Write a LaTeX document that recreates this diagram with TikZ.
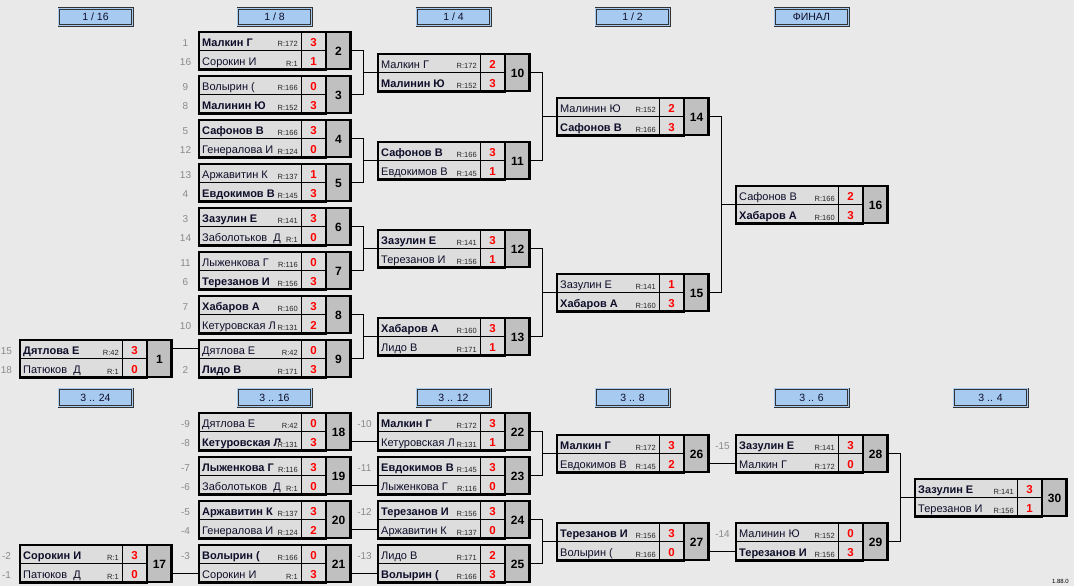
\documentclass[tikz,border=0pt]{standalone}
\usepackage{fontspec}
\setmainfont{Liberation Sans}
\definecolor{bgc}{RGB}{233,233,233}
\definecolor{cellc}{RGB}{221,221,221}
\definecolor{numc}{RGB}{192,192,192}
\definecolor{hdrc}{RGB}{166,202,240}
\definecolor{namec}{RGB}{14,14,42}
\definecolor{seedc}{RGB}{138,138,138}
\tikzset{
  rowcell/.style={rectangle, minimum width=128pt, minimum height=19.5pt, inner sep=0pt, outer sep=0pt, fill=cellc, draw=black, line width=0.6pt},
  fullbox/.style={rectangle, minimum width=153pt, minimum height=39pt, inner sep=0pt, outer sep=0pt},
  frame/.style={line width=2.3pt, draw=black},
  numtxt/.style={inner sep=0pt, font=\fontsize{12}{14}\selectfont\bfseries, text=black},
  nametxt/.style={inner sep=0pt, anchor=base west, font=\fontsize{11}{13}\selectfont, text=namec},
  rtxt/.style={inner sep=0.6pt, anchor=base east, fill=cellc, font=\fontsize{7.5}{9}\selectfont, text=black!85},
  scoretxt/.style={inner sep=0pt, anchor=base, font=\fontsize{11.5}{13}\selectfont\bfseries, text=red},
  seedtxt/.style={inner sep=0pt, anchor=base, font=\fontsize{10}{12}\selectfont, text=seedc},
  hdr/.style={rectangle, minimum width=73.4pt, minimum height=17.4pt, inner sep=0pt, fill=hdrc, draw=black!80, double=hdrc, double distance=1.2pt, line width=0.7pt, text height=7.5pt, text depth=0pt, font=\fontsize{10.5}{12}\selectfont, text=namec},
  conn/.style={line width=0.9pt, draw=black},
}
\newcommand\mtch[4]{%
  \node[rowcell] (M#1a) at (#2+64,#3+9.75) {};
  \node[rowcell] (M#1b) at (#2+64,#3+29.25) {};
  \node[fullbox] (M#1) at (#2+76.5,#3+19.5) {};
  \fill[numc] (#2+128,#3) rectangle (#2+153,#3+39);
  \draw[line width=0.6pt] (#2+103,#3) -- (#2+103,#3+39);
  \draw[frame] (#2+1.1,#3+1.1) rectangle (#2+128,#3+37.9);
  \draw[frame] (#2+128,#3+1.1) rectangle (#2+152.4,#3+37.9);
  \node[numtxt] (M#1n) at (#2+140.5,#3+20.2) {#4};
}
\newcommand\plr[4]{%
  \node[nametxt] (#1-n) at ([shift={(4,5.3)}]#1.west) {#2};
  \node[rtxt] (#1-r) at ([shift={(100.5,-3.5)}]#1.south west) {R:#3};
  \node[scoretxt] (#1-s) at ([shift={(115.5,5.5)}]#1.west) {#4};
}
\newcommand\sd[2]{%
  \node[seedtxt] (#1-k) at ([shift={(-12.5,5.3)}]#1.west) {#2};
}
\begin{document}
\begin{tikzpicture}[x=1pt,y=-1pt]
\useasboundingbox (0,0) rectangle (1074,586);
\fill[bgc] (0,0) rectangle (1074,586);

% headers
\node[hdr] (H1) at (95.5,17) {1 / 16};
\node[hdr] (H2) at (274.5,17) {1 / 8};
\node[hdr] (H3) at (453.5,17) {1 / 4};
\node[hdr] (H4) at (632.5,17) {1 / 2};
\node[hdr] (H5) at (811.5,17) {ФИНАЛ};
\node[hdr] (B1) at (95.5,397.5) {3 .. 24};
\node[hdr] (B2) at (274.5,397.5) {3 .. 16};
\node[hdr] (B3) at (453.5,397.5) {3 .. 12};
\node[hdr] (B4) at (632.5,397.5) {3 .. 8};
\node[hdr] (B5) at (811.5,397.5) {3 .. 6};
\node[hdr] (B6) at (990.5,397.5) {3 .. 4};

% matches, upper bracket
\mtch{1}{19}{339}{1}
\mtch{2}{198}{31}{2}
\mtch{3}{198}{75}{3}
\mtch{4}{198}{119}{4}
\mtch{5}{198}{163}{5}
\mtch{6}{198}{207}{6}
\mtch{7}{198}{251}{7}
\mtch{8}{198}{295}{8}
\mtch{9}{198}{339}{9}
\mtch{10}{377}{53}{10}
\mtch{11}{377}{141}{11}
\mtch{12}{377}{229}{12}
\mtch{13}{377}{317}{13}
\mtch{14}{556}{97}{14}
\mtch{15}{556}{273}{15}
\mtch{16}{735}{185}{16}
% lower bracket
\mtch{17}{19}{544}{17}
\mtch{18}{198}{412}{18}
\mtch{19}{198}{456}{19}
\mtch{20}{198}{500}{20}
\mtch{21}{198}{544}{21}
\mtch{22}{377}{412}{22}
\mtch{23}{377}{456}{23}
\mtch{24}{377}{500}{24}
\mtch{25}{377}{544}{25}
\mtch{26}{556}{434}{26}
\mtch{27}{556}{522}{27}
\mtch{28}{735}{434}{28}
\mtch{29}{735}{522}{29}
\mtch{30}{914}{478}{30}

% players
\plr{M1a}{\bfseries Дятлова Е}{42}{3}\sd{M1a}{15}
\plr{M1b}{Патюков\ \ Д}{1}{0}\sd{M1b}{18}
\plr{M2a}{\bfseries Малкин Г}{172}{3}\sd{M2a}{1}
\plr{M2b}{Сорокин И}{1}{1}\sd{M2b}{16}
\plr{M3a}{Волырин (}{166}{0}\sd{M3a}{9}
\plr{M3b}{\bfseries Малинин Ю}{152}{3}\sd{M3b}{8}
\plr{M4a}{\bfseries Сафонов В}{166}{3}\sd{M4a}{5}
\plr{M4b}{Генералова И}{124}{0}\sd{M4b}{12}
\plr{M5a}{Аржавитин К}{137}{1}\sd{M5a}{13}
\plr{M5b}{\bfseries Евдокимов В}{145}{3}\sd{M5b}{4}
\plr{M6a}{\bfseries Зазулин Е}{141}{3}\sd{M6a}{3}
\plr{M6b}{Заболотьков\ \ Д}{1}{0}\sd{M6b}{14}
\plr{M7a}{Лыженкова Г}{116}{0}\sd{M7a}{11}
\plr{M7b}{\bfseries Терезанов И}{156}{3}\sd{M7b}{6}
\plr{M8a}{\bfseries Хабаров А}{160}{3}\sd{M8a}{7}
\plr{M8b}{Кетуровская Л}{131}{2}\sd{M8b}{10}
\plr{M9a}{Дятлова Е}{42}{0}
\plr{M9b}{\bfseries Лидо В}{171}{3}\sd{M9b}{2}
\plr{M10a}{Малкин Г}{172}{2}
\plr{M10b}{\bfseries Малинин Ю}{152}{3}
\plr{M11a}{\bfseries Сафонов В}{166}{3}
\plr{M11b}{Евдокимов В}{145}{1}
\plr{M12a}{\bfseries Зазулин Е}{141}{3}
\plr{M12b}{Терезанов И}{156}{1}
\plr{M13a}{\bfseries Хабаров А}{160}{3}
\plr{M13b}{Лидо В}{171}{1}
\plr{M14a}{Малинин Ю}{152}{2}
\plr{M14b}{\bfseries Сафонов В}{166}{3}
\plr{M15a}{Зазулин Е}{141}{1}
\plr{M15b}{\bfseries Хабаров А}{160}{3}
\plr{M16a}{Сафонов В}{166}{2}
\plr{M16b}{\bfseries Хабаров А}{160}{3}

\plr{M17a}{\bfseries Сорокин И}{1}{3}\sd{M17a}{-2}
\plr{M17b}{Патюков\ \ Д}{1}{0}\sd{M17b}{-1}
\plr{M18a}{Дятлова Е}{42}{0}\sd{M18a}{-9}
\plr{M18b}{\bfseries Кетуровская Л}{131}{3}\sd{M18b}{-8}
\plr{M19a}{\bfseries Лыженкова Г}{116}{3}\sd{M19a}{-7}
\plr{M19b}{Заболотьков\ \ Д}{1}{0}\sd{M19b}{-6}
\plr{M20a}{\bfseries Аржавитин К}{137}{3}\sd{M20a}{-5}
\plr{M20b}{Генералова И}{124}{2}\sd{M20b}{-4}
\plr{M21a}{\bfseries Волырин (}{166}{0}\sd{M21a}{-3}
\plr{M21b}{Сорокин И}{1}{3}
\plr{M22a}{\bfseries Малкин Г}{172}{3}\sd{M22a}{-10}
\plr{M22b}{Кетуровская Л}{131}{1}
\plr{M23a}{\bfseries Евдокимов В}{145}{3}\sd{M23a}{-11}
\plr{M23b}{Лыженкова Г}{116}{0}
\plr{M24a}{\bfseries Терезанов И}{156}{3}\sd{M24a}{-12}
\plr{M24b}{Аржавитин К}{137}{0}
\plr{M25a}{Лидо В}{171}{2}\sd{M25a}{-13}
\plr{M25b}{\bfseries Волырин (}{166}{3}
\plr{M26a}{\bfseries Малкин Г}{172}{3}
\plr{M26b}{Евдокимов В}{145}{2}
\plr{M27a}{\bfseries Терезанов И}{156}{3}
\plr{M27b}{Волырин (}{166}{0}
\plr{M28a}{\bfseries Зазулин Е}{141}{3}\sd{M28a}{-15}
\plr{M28b}{Малкин Г}{172}{0}
\plr{M29a}{Малинин Ю}{152}{0}\sd{M29a}{-14}
\plr{M29b}{\bfseries Терезанов И}{156}{3}
\plr{M30a}{\bfseries Зазулин Е}{141}{3}
\plr{M30b}{Терезанов И}{156}{1}

% connectors upper
\draw[conn] (M1.east |- M9a) -- (M9a.west);
\foreach \a/\b/\t in {2/3/10, 4/5/11, 6/7/12, 8/9/13, 10/11/14, 12/13/15, 14/15/16}{
  \draw[conn] (M\a.east) -- ++(12.5,0) |- (M\t.west);
  \draw[conn] (M\b.east) -- ++(12.5,0) |- (M\t.west);
}
% connectors lower
\foreach \a/\t in {17/21, 18/22, 19/23, 20/24, 21/25, 26/28, 27/29}{
  \draw[conn] (M\a.east |- M\t b) -- (M\t b.west);
}
\foreach \a/\b/\t in {22/23/26, 24/25/27, 28/29/30}{
  \draw[conn] (M\a.east) -- ++(12.5,0) |- (M\t.west);
  \draw[conn] (M\b.east) -- ++(12.5,0) |- (M\t.west);
}

\node[inner sep=0pt, anchor=base east, font=\fontsize{6}{7}\selectfont, text=black] (ver) at (1069,583.5) {1.88.0};
\end{tikzpicture}
\end{document}
